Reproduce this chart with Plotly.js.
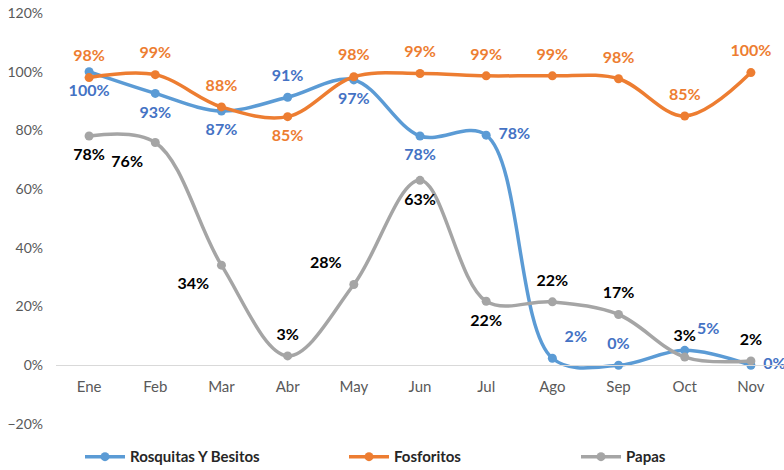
<!DOCTYPE html>
<html>
<head>
<meta charset="utf-8">
<script src="https://cdn.plot.ly/plotly-3.0.1.min.js"></script>
<style>html,body{margin:0;padding:0;background:#fff;}#chart{width:784px;height:470px;}</style>
</head>
<body>
<div id="chart"></div>
<script>
const months = ["Ene","Feb","Mar","Abr","May","Jun","Jul","Ago","Sep","Oct","Nov"];
const rosquitas = [1.00, 0.926, 0.866, 0.913, 0.972, 0.781, 0.784, 0.024, 0.0, 0.051, 0.0];
const fosforitos = [0.98, 0.99, 0.88, 0.847, 0.983, 0.994, 0.986, 0.986, 0.976, 0.849, 0.997];
const papas = [0.781, 0.759, 0.341, 0.032, 0.275, 0.63, 0.218, 0.216, 0.173, 0.028, 0.015];
const seriesNames = ["Rosquitas Y Besitos", "Fosforitos", "Papas"];

const posR = ["bottom center","bottom center","bottom center","top center","bottom center","bottom center","middle right","top right","top center","top right","middle right"];
const posF = ["top center","top center","top center","bottom center","top center","top center","top center","top center","top center","top center","top center"];
const posP = ["bottom center","bottom left","bottom left","top center","top left","bottom center","bottom center","top center","top center","top center","top center"];

const font = "Lato, 'Open Sans', sans-serif";
function lineTrace(name, y, color, legend) {
  return {
    type: "scatter", mode: "lines+markers", name: name, x: months, y: y, legend: legend,
    line: {color: color, width: 3.5, shape: "spline", smoothing: 1},
    marker: {color: color, size: 9}, hoverinfo: "skip"
  };
}
function labelTrace(name, y, textColor, pos) {
  return {
    type: "scatter", mode: "markers+text", name: name, x: months, y: y,
    showlegend: false,
    marker: {color: "rgba(0,0,0,0)", size: 18},
    texttemplate: "%{y:.0%}", textposition: pos,
    textfont: {family: font, size: 16, color: textColor, weight: "bold"},
    cliponaxis: false, hoverinfo: "skip"
  };
}
const data = [
  lineTrace(seriesNames[0], rosquitas, "#5B9BD5", "legend"),
  lineTrace(seriesNames[1], fosforitos, "#ED7D31", "legend2"),
  lineTrace(seriesNames[2], papas, "#A5A5A5", "legend3"),
  labelTrace(seriesNames[0], rosquitas, "#4472C4", posR),
  labelTrace(seriesNames[1], fosforitos, "#ED7D31", posF),
  labelTrace(seriesNames[2], papas, "#000000", posP)
];
function leg(px) {
  return {orientation: "h", x: (px - 56 - 6) / 728, xanchor: "left", y: -0.08, yanchor: "middle",
          font: {family: font, size: 15, color: "#262626", weight: "bold"}, itemwidth: 40};
}
const layout = {
  width: 784, height: 470,
  margin: {l: 56, r: 0, t: 13, b: 46, autoexpand: false},
  paper_bgcolor: "#fff", plot_bgcolor: "#fff",
  font: {family: font, size: 13, color: "#595959"},
  showlegend: true,
  legend: leg(86), legend2: leg(350), legend3: leg(582),
  xaxis: {type: "category", anchor: "free", position: 0.142857,
          showline: true, linecolor: "#D9D9D9", linewidth: 1, ticks: "",
          showgrid: false, zeroline: false, tickfont: {size: 15, color: "#595959"},
          range: [-0.5, 10.5], ticklabelstandoff: 8},
  yaxis: {range: [-0.2, 1.2], dtick: 0.2, tick0: 0, tickformat: ".0%",
          showgrid: false, zeroline: false, showline: false, ticks: "",
          tickfont: {size: 14, color: "#595959"}, ticklabelstandoff: 12}
};
Plotly.newPlot("chart", data, layout, {displayModeBar: false, staticPlot: true});
</script>
</body>
</html>
